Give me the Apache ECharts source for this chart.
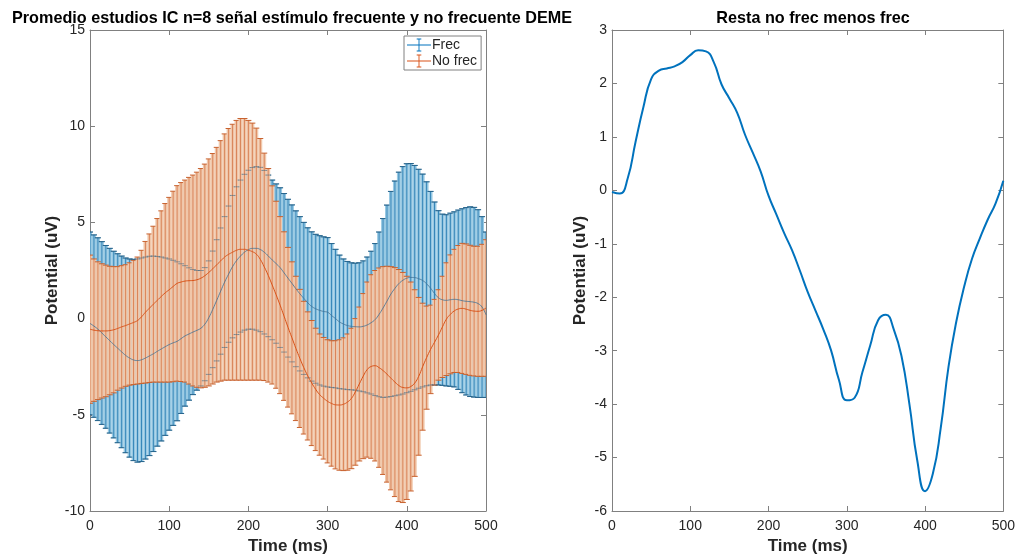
<!DOCTYPE html>
<html>
<head>
<meta charset="utf-8">
<script src="https://cdn.jsdelivr.net/npm/echarts@6/dist/echarts.min.js"></script>
<style>
  html, body { margin: 0; padding: 0; background: #ffffff; }
  #chart { width: 1018px; height: 560px; }
</style>
</head>
<body>
<div id="chart"></div>
<script>
// Sample times of the averaged epochs (ms)
const timeMs = [0, 5, 10, 15, 20, 25, 30, 35, 40, 45, 50, 55, 60, 65, 70, 75, 80, 85, 90, 95,
  100, 105, 110, 115, 120, 125, 130, 135, 140, 145, 150, 155, 160, 165, 170, 175, 180, 185, 190, 195,
  200, 205, 210, 215, 220, 225, 230, 235, 240, 245, 250, 255, 260, 265, 270, 275, 280, 285, 290, 295,
  300, 305, 310, 315, 320, 325, 330, 335, 340, 345, 350, 355, 360, 365, 370, 375, 380, 385, 390, 395,
  400, 405, 410, 415, 420, 425, 430, 435, 440, 445, 450, 455, 460, 465, 470, 475, 480, 485, 490, 495, 500];

// Grand average, frequent stimulus (uV)
const frecMean = [-0.25, -0.39, -0.55, -0.75, -0.95, -1.15, -1.35, -1.54, -1.73, -1.91, -2.05, -2.15, -2.18, -2.14, -2.05, -1.94, -1.83, -1.70, -1.58, -1.46,
  -1.35, -1.26, -1.18, -1.04, -0.90, -0.80, -0.70, -0.61, -0.50, -0.29, 0.05, 0.48, 0.95, 1.43, 1.90, 2.31, 2.70, 3.01, 3.25, 3.45,
  3.58, 3.65, 3.65, 3.59, 3.45, 3.26, 3.05, 2.86, 2.65, 2.38, 2.10, 1.83, 1.55, 1.29, 1.05, 0.82, 0.63, 0.51, 0.43, 0.37,
  0.33, 0.16, 0.00, -0.17, -0.28, -0.36, -0.40, -0.42, -0.43, -0.40, -0.33, -0.21, -0.05, 0.22, 0.55, 0.91, 1.28, 1.57, 1.82, 1.99,
  2.10, 2.14, 2.13, 2.07, 1.98, 1.81, 1.58, 1.31, 1.08, 0.98, 0.95, 0.98, 1.00, 0.98, 0.93, 0.90, 0.88, 0.85, 0.78, 0.60, 0.20];
// Error half-width, frequent stimulus (uV)
const frecErr = [4.75, 4.74, 4.75, 4.75, 4.75, 4.80, 4.85, 4.91, 4.98, 5.06, 5.15, 5.23, 5.28, 5.29, 5.25, 5.18, 5.08, 4.93, 4.78, 4.61,
  4.45, 4.29, 4.13, 3.89, 3.65, 3.44, 3.25, 3.11, 3.00, 2.94, 2.95, 3.03, 3.15, 3.28, 3.40, 3.54, 3.70, 3.84, 3.95, 4.05,
  4.13, 4.20, 4.25, 4.27, 4.25, 4.20, 4.15, 4.14, 4.15, 4.12, 4.10, 4.08, 4.05, 4.01, 3.95, 3.90, 3.88, 3.87, 3.88, 3.88,
  3.88, 3.74, 3.60, 3.47, 3.38, 3.33, 3.30, 3.30, 3.33, 3.40, 3.53, 3.71, 3.95, 4.28, 4.65, 4.99, 5.33, 5.58, 5.79, 5.91,
  5.95, 5.92, 5.83, 5.69, 5.53, 5.30, 5.03, 4.75, 4.53, 4.45, 4.45, 4.50, 4.55, 4.66, 4.78, 4.87, 4.93, 4.93, 4.88, 4.70, 4.30];

// Grand average, infrequent stimulus (uV)
const noFrecMean = [-0.55, -0.60, -0.63, -0.64, -0.64, -0.62, -0.58, -0.51, -0.43, -0.36, -0.28, -0.20, -0.10, 0.09, 0.33, 0.54, 0.75, 0.95, 1.15, 1.34,
  1.50, 1.67, 1.83, 1.90, 1.95, 1.97, 1.98, 2.02, 2.10, 2.23, 2.40, 2.59, 2.80, 3.00, 3.20, 3.34, 3.45, 3.55, 3.60, 3.60,
  3.55, 3.48, 3.35, 3.08, 2.69, 2.25, 1.75, 1.24, 0.70, 0.13, -0.45, -1.00, -1.55, -2.07, -2.55, -2.98, -3.35, -3.68, -3.95, -4.14,
  -4.30, -4.41, -4.48, -4.49, -4.45, -4.34, -4.15, -3.81, -3.40, -2.99, -2.65, -2.49, -2.45, -2.55, -2.70, -2.89, -3.10, -3.30, -3.48, -3.58,
  -3.60, -3.53, -3.35, -3.00, -2.50, -2.03, -1.60, -1.23, -0.85, -0.43, -0.03, 0.22, 0.40, 0.50, 0.53, 0.49, 0.43, 0.39, 0.38, 0.43, 0.55];
// Error half-width, infrequent stimulus (uV)
const noFrecErr = [3.85, 3.70, 3.58, 3.49, 3.42, 3.34, 3.28, 3.21, 3.18, 3.16, 3.18, 3.23, 3.30, 3.46, 3.68, 3.86, 4.05, 4.25, 4.45, 4.64,
  4.80, 4.95, 5.08, 5.17, 5.25, 5.37, 5.48, 5.59, 5.70, 5.80, 5.90, 5.99, 6.10, 6.25, 6.40, 6.54, 6.65, 6.75, 6.80, 6.80,
  6.75, 6.68, 6.55, 6.28, 5.91, 5.55, 5.15, 4.86, 4.60, 4.38, 4.15, 3.95, 3.75, 3.59, 3.45, 3.33, 3.25, 3.18, 3.15, 3.16,
  3.20, 3.26, 3.33, 3.39, 3.45, 3.54, 3.65, 3.81, 4.00, 4.29, 4.55, 4.77, 4.95, 5.18, 5.40, 5.61, 5.80, 5.95, 6.03, 5.98,
  5.80, 5.43, 4.85, 4.10, 3.30, 2.68, 2.30, 2.23, 2.35, 2.63, 2.93, 3.09, 3.20, 3.30, 3.38, 3.39, 3.38, 3.37, 3.38, 3.43, 3.55];

// Difference wave: infrequent minus frequent (uV)
const diffTimeMs = [0, 10, 20, 30, 40, 50, 60, 70, 80, 90, 100, 110, 120, 130, 140, 150, 160, 170, 180, 190, 200,
  210, 220, 230, 240, 250, 260, 270, 280, 290, 300, 310, 320, 330, 340, 350, 360, 370, 380, 390, 400,
  410, 420, 430, 440, 450, 460, 470, 480, 490, 500];
const diffValues = [-0.03, -0.06, 0.22, 0.90, 1.55, 2.08, 2.24, 2.28, 2.32, 2.40, 2.53, 2.62, 2.60, 2.40, 1.98, 1.72, 1.45, 1.04, 0.70, 0.35, -0.10,
  -0.45, -0.80, -1.12, -1.50, -1.90, -2.25, -2.60, -3.00, -3.55, -3.93, -3.88, -3.40, -2.90, -2.43, -2.33, -2.60, -3.11, -4.00, -5.05, -5.63,
  -5.30, -4.45, -3.30, -2.45, -1.80, -1.28, -0.90, -0.55, -0.25, 0.18];

// Axis ticks
const xTicks = [0, 100, 200, 300, 400, 500];
const leftYTicks = [-10, -5, 0, 5, 10, 15];
const rightYTicks = [-6, -5, -4, -3, -2, -1, 0, 1, 2, 3];

const BLUE = '#0072BD';
const ORANGE = '#D95319';
const AXIS = '#808080';
const INK = '#262626';
const FONT = '"Liberation Sans", Arial, sans-serif';

const step = timeMs[1] - timeMs[0];

function bounds(mean, err) {
  return timeMs.map((t, i) => [t, mean[i] - err[i], mean[i] + err[i]]);
}
function pairs(xs, values) {
  return xs.map((t, i) => [t, values[i]]);
}

// One error bar per sample: a tinted slab, the vertical bar and both caps
function errorBars(fill, stroke, capStroke) {
  return function (params, api) {
    const t = api.value(0);
    const lo = api.coord([t, api.value(1)]);
    const hi = api.coord([t, api.value(2)]);
    const w = api.size([step, 0])[0];
    const cap = 3;
    return {
      type: 'group',
      children: [
        { type: 'rect', shape: { x: hi[0] - w / 2, y: hi[1], width: w, height: lo[1] - hi[1] },
          style: { fill: fill } },
        { type: 'line', shape: { x1: hi[0], y1: hi[1], x2: lo[0], y2: lo[1] },
          style: { stroke: stroke, lineWidth: 1 } },
        { type: 'line', shape: { x1: hi[0] - cap, y1: hi[1], x2: hi[0] + cap, y2: hi[1] },
          style: { stroke: capStroke, lineWidth: 1 } },
        { type: 'line', shape: { x1: lo[0] - cap, y1: lo[1], x2: lo[0] + cap, y2: lo[1] },
          style: { stroke: capStroke, lineWidth: 1 } }
      ]
    };
  };
}

// Caps only, drawn faintly over the other band
function capsOnly(stroke, opacity) {
  return function (params, api) {
    const t = api.value(0);
    const lo = api.coord([t, api.value(1)]);
    const hi = api.coord([t, api.value(2)]);
    const cap = 3;
    return {
      type: 'group',
      children: [
        { type: 'line', shape: { x1: hi[0] - cap, y1: hi[1], x2: hi[0] + cap, y2: hi[1] },
          style: { stroke: stroke, lineWidth: 1, opacity: opacity } },
        { type: 'line', shape: { x1: lo[0] - cap, y1: lo[1], x2: lo[0] + cap, y2: lo[1] },
          style: { stroke: stroke, lineWidth: 1, opacity: opacity } }
      ]
    };
  };
}

function xAxisPair(gridIndex) {
  const common = {
    gridIndex: gridIndex, type: 'value', min: 0, max: 500, interval: 100,
    splitLine: { show: false },
    axisLine: { show: true, onZero: false, lineStyle: { color: AXIS, width: 1 } },
    axisTick: { show: true, inside: true, length: 5, lineStyle: { color: AXIS } }
  };
  return [
    Object.assign({}, common, {
      position: 'bottom',
      axisLabel: { show: true, fontFamily: FONT, fontSize: 14, color: INK, margin: 8,
        customValues: xTicks },
      name: 'Time (ms)', nameLocation: 'middle', nameGap: 26,
      nameTextStyle: { fontFamily: FONT, fontSize: 17, fontWeight: 'bold', color: INK }
    }),
    Object.assign({}, common, { position: 'top', axisLabel: { show: false } })
  ];
}

function yAxisPair(gridIndex, min, max, interval, ticks) {
  const common = {
    gridIndex: gridIndex, type: 'value', min: min, max: max, interval: interval,
    splitLine: { show: false },
    axisLine: { show: true, onZero: false, lineStyle: { color: AXIS, width: 1 } },
    axisTick: { show: true, inside: true, length: 5, lineStyle: { color: AXIS } }
  };
  return [
    Object.assign({}, common, {
      position: 'left',
      axisLabel: { show: true, fontFamily: FONT, fontSize: 14, color: INK, margin: 5,
        customValues: ticks },
      name: 'Potential (uV)', nameLocation: 'middle', nameGap: 23,
      nameTextStyle: { fontFamily: FONT, fontSize: 17, fontWeight: 'bold', color: INK }
    }),
    Object.assign({}, common, { position: 'right', axisLabel: { show: false } })
  ];
}

const errorIcon = 'path://M0,9.5h26v1h-26z M12.5,3h1v14h-1z M10.5,3h5v1h-5z M10.5,16h5v1h-5z';

const chart = echarts.init(document.getElementById('chart'), null, { renderer: 'canvas' });
chart.setOption({
  backgroundColor: '#ffffff',
  animation: false,
  title: [
    { text: 'Promedio estudios IC n=8 señal estímulo frecuente y no frecuente DEME',
      left: 287, top: 6, textAlign: 'center',
      textStyle: { fontFamily: FONT, fontSize: 16.2, fontWeight: 'bold', color: '#000' } },
    { text: 'Resta no frec menos frec',
      left: 808, top: 6, textAlign: 'center',
      textStyle: { fontFamily: FONT, fontSize: 16.2, fontWeight: 'bold', color: '#000' } }
  ],
  legend: {
    data: [
      { name: 'Frec', icon: errorIcon },
      { name: 'No frec', icon: errorIcon }
    ],
    orient: 'vertical', left: 404, top: 36,
    itemWidth: 24, itemHeight: 14, itemGap: 2,
    padding: [2, 4, 2, 3],
    backgroundColor: '#ffffff', borderColor: AXIS, borderWidth: 1, borderRadius: 0,
    textStyle: { fontFamily: FONT, fontSize: 14, color: INK, padding: [0, 0, 0, -4] }
  },
  grid: [
    { left: 90, top: 30, width: 396, height: 481 },
    { left: 612, top: 30, width: 394, height: 481 }
  ],
  xAxis: xAxisPair(0).concat(xAxisPair(1)),
  yAxis: yAxisPair(0, -10, 15, 5, leftYTicks).concat(yAxisPair(1, -6, 3, 1, rightYTicks)),
  series: [
    { name: 'Frec', type: 'custom', xAxisIndex: 0, yAxisIndex: 0, z: 2, clip: true,
      itemStyle: { color: BLUE },
      renderItem: errorBars('#98c9e3', '#3686b8', '#1f6a99'),
      data: bounds(frecMean, frecErr) },
    { name: 'No frec', type: 'custom', xAxisIndex: 0, yAxisIndex: 0, z: 3, clip: true,
      itemStyle: { color: ORANGE },
      renderItem: errorBars('#f0c7aa', '#d9855a', '#c8622f'),
      data: bounds(noFrecMean, noFrecErr) },
    { name: 'Frec caps', type: 'custom', xAxisIndex: 0, yAxisIndex: 0, z: 4, clip: true,
      renderItem: capsOnly('#2f5f80', 0.5),
      data: bounds(frecMean, frecErr) },
    { name: 'Frec mean', type: 'line', xAxisIndex: 0, yAxisIndex: 0, z: 5,
      showSymbol: false, smooth: true,
      lineStyle: { color: '#3f6f93', width: 1, opacity: 0.8 },
      data: pairs(timeMs, frecMean) },
    { name: 'No frec mean', type: 'line', xAxisIndex: 0, yAxisIndex: 0, z: 5,
      showSymbol: false, smooth: true,
      lineStyle: { color: ORANGE, width: 1 },
      data: pairs(timeMs, noFrecMean) },
    { name: 'Resta', type: 'line', xAxisIndex: 2, yAxisIndex: 2, z: 5,
      showSymbol: false, smooth: true,
      lineStyle: { color: BLUE, width: 2 },
      data: pairs(diffTimeMs, diffValues) }
  ]
});
</script>
</body>
</html>
